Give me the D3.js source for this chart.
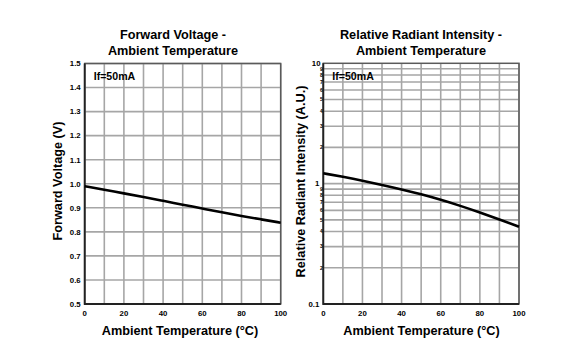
<!DOCTYPE html>
<html>
<head>
<meta charset="utf-8">
<script src="https://cdn.jsdelivr.net/npm/d3@7"></script>
<style>
  html, body { margin: 0; padding: 0; background: #fff; }
  svg { display: block; }
  text { font-family: "Liberation Sans", Arial, sans-serif; font-weight: bold; fill: #000; }
</style>
</head>
<body>
<svg id="chart" width="562" height="360"></svg>
<script>
// ---- Data ----
const temperatures = [0, 10, 20, 30, 40, 50, 60, 70, 80, 90, 100];
const forwardVoltage = [0.99, 0.975, 0.96, 0.945, 0.929, 0.913, 0.897, 0.881, 0.866, 0.852, 0.838];
const relativeIntensity = [1.22, 1.14, 1.06, 0.977, 0.897, 0.816, 0.735, 0.655, 0.577, 0.503, 0.438];

const xTickLabels = [0, 20, 40, 60, 80, 100];
const xGridValues = [0, 10, 20, 30, 40, 50, 60, 70, 80, 90, 100];
const voltageTicks = [0.5, 0.6, 0.7, 0.8, 0.9, 1.0, 1.1, 1.2, 1.3, 1.4, 1.5];
const intensityMajorTicks = [0.1, 1, 10];
const intensityMinorTicks = [0.2, 0.3, 0.4, 0.5, 0.6, 0.7, 0.8, 0.9, 2, 3, 4, 5, 6, 7, 8, 9];

const leftTitle = ["Forward Voltage -", "Ambient Temperature"];
const rightTitle = ["Relative Radiant Intensity -", "Ambient Temperature"];
const xTitle = "Ambient Temperature (\u00B0C)";
const leftYTitle = "Forward Voltage (V)";
const rightYTitle = "Relative Radiant Intensity (A.U.)";
const condition = "If=50mA";

// ---- Drawing ----
const svg = d3.select("#chart");
const gridColor = "#a6a6a6";

function drawPanel(opts) {
  const { x, y, xLeft, xRight, yTop, yBottom } = opts;
  const g = svg.append("g");

  // vertical grid
  g.append("g").selectAll("line").data(xGridValues).join("line")
    .attr("x1", d => x(d)).attr("x2", d => x(d))
    .attr("y1", yTop).attr("y2", yBottom)
    .attr("stroke", gridColor).attr("stroke-width", 1.6);

  // horizontal grid
  g.append("g").selectAll("line").data(opts.yGrid).join("line")
    .attr("x1", xLeft).attr("x2", xRight)
    .attr("y1", d => y(d)).attr("y2", d => y(d))
    .attr("stroke", gridColor).attr("stroke-width", 1.6);

  // frame
  g.append("rect")
    .attr("x", xLeft).attr("y", yTop)
    .attr("width", xRight - xLeft).attr("height", yBottom - yTop)
    .attr("fill", "none").attr("stroke", "#5a5a5a").attr("stroke-width", 1.5);
  g.append("path")
    .attr("d", `M${xLeft},${yTop}V${yBottom}H${xRight}`)
    .attr("fill", "none").attr("stroke", "#222").attr("stroke-width", 1.8);

  // x tick labels
  g.append("g").selectAll("text").data(xTickLabels).join("text")
    .attr("x", d => x(d)).attr("y", yBottom + 12)
    .attr("text-anchor", "middle").attr("font-size", 7.8)
    .text(d => d);

  // curve
  g.append("path")
    .datum(temperatures.map((t, i) => [t, opts.values[i]]))
    .attr("fill", "none").attr("stroke", "#000").attr("stroke-width", 2.6)
    .attr("d", d3.line().x(d => x(d[0])).y(d => y(d[1])).curve(d3.curveBasis));

  // condition label
  g.append("text")
    .attr("x", xLeft + 9).attr("y", yTop + 16.8)
    .attr("font-size", 10.6).text(condition);

  // x title
  g.append("text")
    .attr("x", opts.xTitleX).attr("y", 335)
    .attr("text-anchor", "middle").attr("font-size", 12.7).text(xTitle);

  // y title
  g.append("text")
    .attr("transform", `translate(${opts.yTitleX},${opts.yTitleY}) rotate(-90)`)
    .attr("text-anchor", "middle").attr("font-size", 12.7).text(opts.yTitle);

  // title
  g.append("g").selectAll("text").data(opts.title).join("text")
    .attr("x", opts.titleX).attr("y", (d, i) => 39 + i * 15.5)
    .attr("text-anchor", "middle").attr("font-size", 12.7).text(d => d);

  return g;
}

// Left panel
const xL = d3.scaleLinear().domain([0, 100]).range([84.7, 280.7]);
const yL = d3.scaleLinear().domain([0.5, 1.5]).range([304, 63.5]);
const gL = drawPanel({
  x: xL, y: yL, xLeft: 84.7, xRight: 280.7, yTop: 63.5, yBottom: 304,
  yGrid: voltageTicks, values: forwardVoltage,
  xTitleX: 180, yTitleX: 62, yTitleY: 181, yTitle: leftYTitle,
  title: leftTitle, titleX: 173
});
gL.append("g").selectAll("text").data(voltageTicks).join("text")
  .attr("x", 80.7).attr("y", d => yL(d) + 2.8)
  .attr("text-anchor", "end").attr("font-size", 7.8)
  .text(d => d3.format(".1f")(d));

// Right panel
const xR = d3.scaleLinear().domain([0, 100]).range([323.3, 519]);
const yR = d3.scaleLog().domain([0.1, 10]).range([304, 63.3]);
const gR = drawPanel({
  x: xR, y: yR, xLeft: 323.3, xRight: 519, yTop: 63.3, yBottom: 304,
  yGrid: intensityMinorTicks.concat([1]), values: relativeIntensity,
  xTitleX: 421.5, yTitleX: 305, yTitleY: 181.5, yTitle: rightYTitle,
  title: rightTitle, titleX: 421
});
gR.append("g").selectAll("text").data(intensityMajorTicks).join("text")
  .attr("x", d => d === 10 ? 320.5 : 319.3)
  .attr("y", d => yR(d) + 2.8)
  .attr("text-anchor", "end").attr("font-size", 7.8)
  .text(d => d === 0.1 ? "0.1" : String(d));
gR.append("g").selectAll("text").data(intensityMinorTicks).join("text")
  .attr("x", 322.8).attr("y", d => yR(d) + 1.8)
  .attr("text-anchor", "end").attr("font-size", 5)
  .text(d => String(Math.round(d >= 1 ? d : d * 10)));
</script>
</body>
</html>
